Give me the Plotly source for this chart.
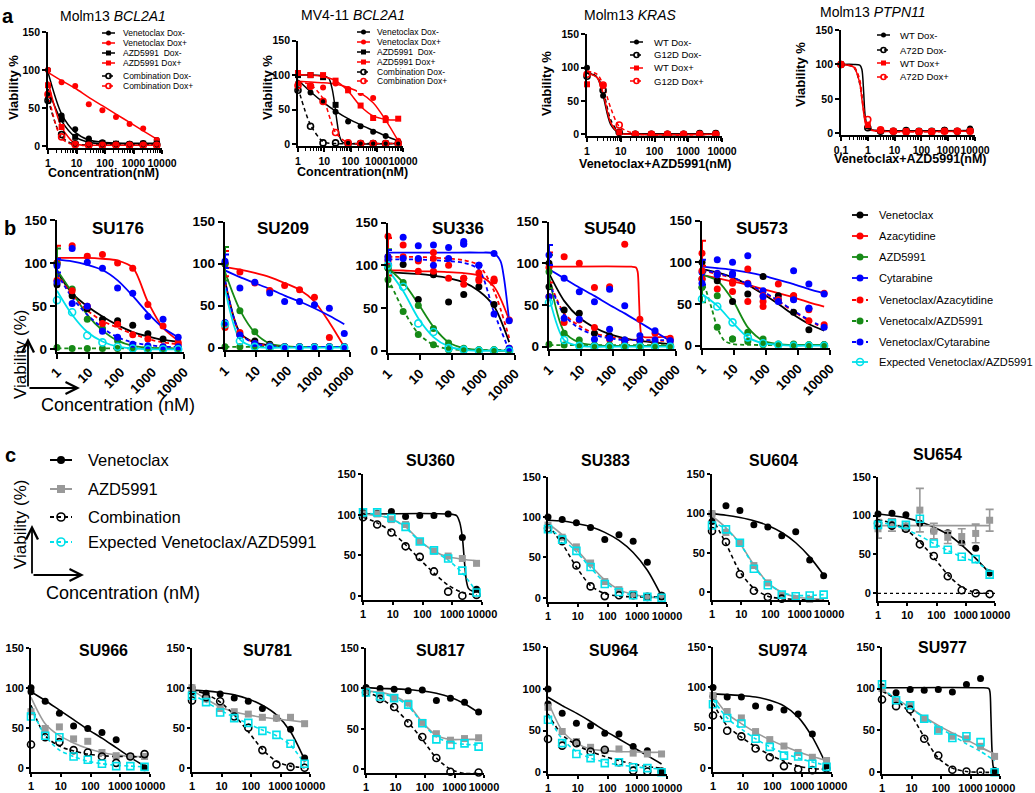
import plotly.graph_objects as go

W, H = 1035, 793
FONT = "Liberation Sans, Arial, sans-serif"

# concentrations (nM), 3-fold dilutions
CONC = [1, 3, 9, 27, 81, 243, 729, 2187, 6561]
CONC_PT = [0.1, 1, 3, 9, 27, 81, 243, 729, 2187, 6561]

# ---------------- panel a : cell lines ----------------
BCL_NAMES = ["Venetoclax Dox-", "Venetoclax Dox+", "AZD5991  Dox-", "AZD5991 Dox+",
             "Combination Dox-", "Combination Dox+"]
KRAS_NAMES = ["WT Dox-", "G12D Dox-", "WT Dox+", "G12D Dox+"]
PTPN_NAMES = ["WT Dox-", "A72D Dox-", "WT Dox+", "A72D Dox+"]

M13_BCL_PTS = [
    [100, 40, 22, 10, 5, 3, 3, 4, 8],
    [100, 84, 79, 55, 47, 38, 29, 23, 8],
    [67, 35, 12, 7, 4, 3, 2, 3, 3],
    [80, 25, 2, 1, 1, 1, 1, 1, 1],
    [60, 15, 3, 2, 2, 2, 2, 2, 2],
    [68, 12, 2, 1, 1, 1, 1, 1, 1],
]
M13_BCL_FIT = [
    [97, 42, 18, 8, 5, 4, 3.5, 3.5, 3.5],
    [97, 86, 76, 64, 53, 42, 31, 20, 9],
    [75, 33, 12, 5, 3, 3, 3, 3, 3],
    [85, 25, 3, 1, 1, 1, 1, 1, 1],
    [62, 12, 2, 1.5, 1.5, 1.5, 1.5, 1.5, 1.5],
    [70, 10, 1, 1, 1, 1, 1, 1, 1],
]

MV4_BCL_PTS = [
    [88, 75, 62, 47, 33, 26, 18, 12, 4],
    [88, 83, 82, 88, 80, 74, 67, 38, 5],
    [100, 100, 97, 57, 2, 1, 1, 1, 1],
    [103, 100, 100, 92, 78, 56, 38, 35, 37],
    [78, 26, 2, 2, 1, 1, 1, 1, 1],
    [85, 84, 62, 17, 2, 1, 1, 1, 1],
]
MV4_AZD_FIT_X = [1, 9, 15, 20, 25, 30, 38, 50, 81, 6561]
MV4_BCL_FIT = [
    [93, 76, 61, 48, 37, 28, 20, 12, 5],
    [91, 90, 89, 87, 82, 74, 60, 35, 5],
    [100, 99, 95, 80, 58, 35, 12, 3, 1, 1],
    [101, 100, 98, 92, 77, 55, 41, 36, 35],
    [82, 28, 4, 1, 1, 1, 1, 1, 1],
    [90, 86, 66, 17, 2, 1, 1, 1, 1],
]

KRAS_PTS = [
    [100, 58, 2, 1, 1, 1, 1, 2, 2],
    [87, 66, 3, 0, 0, 0, 0, 1, 1],
    [75, 73, 3, 0, 0, 0, 0, 0, 0],
    [90, 74, 14, 0, 0, 0, 0, 0, 0],
]
KRAS_FIT_X = [1, 2, 3, 5, 9, 27, 6561]
KRAS_FIT = [
    [93, 85, 58, 15, 2, 1, 1],
    [94, 86, 66, 22, 3, 0, 0],
    [92, 85, 62, 18, 2, 0, 0],
    [95, 90, 75, 40, 12, 1, 0],
]

PTPN_PTS = [
    [100, 10, 3, 3, 3, 3, 3, 5, 3, 7],
    [100, 8, 3, 3, 4, 3, 3, 4, 3, 4],
    [100, 12, 4, 3, 3, 3, 3, 3, 3, 3],
    [100, 20, 5, 3, 2, 2, 2, 3, 3, 3],
]
PTPN_FIT_X = [0.1, 0.3, 0.5, 0.6, 0.7, 0.8, 1, 1.5, 3, 6561]
PTPN_FIT = [
    [100, 100, 99, 93, 60, 25, 9, 5, 4, 4],
    [100, 96, 72, 52, 33, 18, 8, 4, 3, 3],
    [100, 96, 73, 50, 30, 16, 7, 4, 3, 3],
    [100, 97, 78, 56, 36, 22, 10, 5, 3, 3],
]

# ---------------- panel b : primary samples ----------------
B_NAMES = ["Venetoclax", "Azacytidine", "AZD5991", "Cytarabine", "Venetoclax/Azacytidine",
           "Venetocalx/AZD5991", "Venetoclax/Cytarabine", "Expected Venetoclax/AZD5991"]

SU176_PTS = [
    [100, 62, 47, 35, 33, 28, 18, 12, 1],
    [100, 120, 108, 110, 100, 94, 52, 27, 8],
    [99, 70, 35, 24, 10, 3, 2, 1, 1],
    [97, 117, 101, 94, 71, 65, 38, 35, 14],
    [80, 68, 50, 30, 29, 17, 12, 3, 6],
    [2, 1, 1, 1, 1, 1, 1, 1, 1],
    [78, 53, 50, 21, 14, 6, 4, 3, 3],
    [57, 43, 16, 8, 3, 1, 0, 0, 0],
]
SU176_FIT = [
    [90, 65, 50, 38, 28, 20, 15, 11, 9],
    [106, 106, 106, 105, 103, 95, 55, 25, 10],
    [92, 66, 40, 22, 10, 4, 2, 1, 1],
    [104, 102, 98, 92, 80, 62, 42, 25, 14],
    [88, 63, 45, 33, 25, 18, 12, 8, 6],
    [1, 1, 1, 1, 1, 1, 1, 1, 1],
    [88, 60, 40, 25, 14, 8, 5, 3, 3],
    [68, 40, 20, 9, 3, 1, 0, 0, 0],
]
SU176_REP = {0: [75, None, None, None, None, None, None, None, None]}
SU176_ERR = [0, 20, 18, 8, 0, 0, 0, 0]

SU209_PTS = [
    [100, 15, 8, 4, 1, 1, 1, 1, 1],
    [100, 90, 77, 68, 74, 69, 60, 12, 1],
    [100, 44, 19, 3, 1, 1, 1, 1, 1],
    [103, 71, 78, 65, 55, 55, 51, 47, 17],
    [24, 18, 5, 2, 1, 1, 1, 1, 1],
    [1, 1, 1, 1, 1, 1, 1, 1, 1],
    [30, 15, 5, 2, 1, 1, 1, 1, 1],
    [28, 8, 1, 0, 0, 0, 0, 0, 0],
]
SU209_FIT = [
    [80, 18, 6, 3, 1, 1, 1, 1, 1],
    [96, 93, 89, 84, 77, 69, 55, 30, 1],
    [90, 45, 18, 5, 2, 1, 1, 1, 1],
    [92, 84, 77, 70, 62, 55, 47, 38, 28],
    [78, 17, 6, 2, 1, 1, 1, 1, 1],
    [1, 1, 1, 1, 1, 1, 1, 1, 1],
    [80, 17, 5, 2, 1, 1, 1, 1, 1],
    [70, 10, 1, 0, 0, 0, 0, 0, 0],
]
SU209_REP = {0: [27, None, None, None, None, None, None, None, None]}
SU209_ERR = [0, 15, 20, 8, 0, 0, 0, 0]

SU336_PTS = [
    [97, 101, 60, 89, 57, 66, 75, 54, 1],
    [110, 124, 107, 115, 85, 85, 91, 84, 36],
    [97, 80, 53, 26, 9, 3, 1, 1, 1],
    [110, 133, 123, 124, 121, 128, 100, 114, 35],
    [105, 110, 105, 108, 100, 85, 84, 82, 3],
    [83, 46, 19, 7, 1, 1, 1, 1, 1],
    [107, 108, 108, 100, 108, 125, 100, 43, 3],
    [100, 75, 32, 22, 3, 1, 0, 0, 0],
]
SU336_CYT_FIT_X = [1, 81, 729, 2187, 3500, 4500, 5500, 6561]
SU336_FIT = [
    [92, 91, 90, 88, 85, 80, 70, 52, 10],
    [94, 94, 93, 93, 92, 91, 88, 75, 36],
    [97, 80, 55, 28, 10, 3, 1, 0, 0],
    [115, 115, 115, 114, 105, 85, 60, 35],
    [110, 110, 110, 109, 108, 106, 100, 70, 15],
    [85, 48, 20, 7, 2, 1, 1, 1, 1],
    [107, 107, 107, 106, 105, 103, 95, 45, 0],
    [95, 70, 38, 16, 5, 1, 0, 0, 0],
]
SU336_REP = {1: [134, None, 93, 93, None, 78, 82, 82, None],
             3: [None, None, None, None, None, 125, None, None, None]}
SU336_ERR = [0, 22, 22, 8, 0, 0, 0, 0]

SU540_PTS = [
    [100, 44, 40, 16, 13, 8, 7, 4, 1],
    [95, 108, 100, 71, 72, 123, 33, 16, 10],
    [90, 16, 8, 1, 1, 1, 1, 1, 1],
    [110, 82, 66, 54, 69, 49, 13, 19, 7],
    [60, 29, 32, 23, 9, 5, 8, 5, 7],
    [3, 2, 2, 2, 2, 2, 2, 2, 2],
    [60, 34, 33, 9, 10, 8, 8, 8, 7],
    [53, 8, 1, 0, 0, 0, 0, 0, 0],
]
SU540_AZA_FIT_X = [1, 400, 550, 620, 680, 730, 800, 900, 6561]
SU540_FIT = [
    [88, 55, 35, 23, 15, 10, 7, 5, 3],
    [96, 96, 95, 90, 60, 30, 15, 12, 12],
    [85, 18, 5, 2, 1, 1, 1, 1, 1],
    [93, 82, 71, 61, 50, 40, 29, 18, 7],
    [80, 40, 25, 16, 12, 9, 8, 7, 7],
    [2, 2, 2, 2, 2, 2, 2, 2, 2],
    [78, 38, 22, 14, 10, 8, 8, 8, 8],
    [60, 8, 1, 0, 0, 0, 0, 0, 0],
]
SU540_REP = {0: [72, None, None, None, None, None, None, None, None],
             3: [None, None, None, None, 21, None, None, None, None]}
SU540_ERR = [0, 18, 20, 12, 0, 0, 0, 0]

SU573_PTS = [
    [100, 78, 53, 62, 83, 60, 40, 19, 1],
    [111, 68, 65, 92, 47, 74, 60, 43, 63],
    [70, 60, 8, 16, 8, 2, 2, 1, 1],
    [88, 103, 100, 108, 66, 55, 90, 74, 62],
    [90, 85, 75, 75, 60, 55, 60, 30, 25],
    [70, 22, 8, 5, 1, 1, 1, 1, 1],
    [75, 85, 85, 74, 59, 53, 55, 45, 22],
    [56, 47, 28, 10, 3, 1, 0, 0, 0],
]
SU573_VA_FIT_X = [1, 2, 3, 5, 9, 27, 6561]
SU573_FIT = [
    [92, 88, 82, 73, 62, 50, 37, 26, 18],
    [85, 81, 77, 73, 68, 63, 58, 52, 47],
    [85, 78, 55, 22, 6, 2, 1, 1, 1],
    [95, 93, 91, 88, 84, 79, 74, 68, 63],
    [90, 86, 81, 73, 64, 53, 41, 30, 21],
    [82, 45, 22, 6, 2, 1, 1],
    [91, 87, 82, 74, 65, 54, 42, 31, 22],
    [62, 48, 28, 10, 3, 1, 0, 0, 0],
]
SU573_REP = {0: [80, None, None, None, None, None, None, None, None],
             1: [80, None, 77, 53, 53, None, None, None, None],
             3: [None, 87, 87, None, None, None, 56, 45, None]}
SU573_ERR = [0, 15, 18, 15, 0, 0, 0, 0]

# ---------------- panel c : Venetoclax / AZD5991 ----------------
C_NAMES = ["Venetoclax", "AZD5991", "Combination", "Expected Venetoclax/AZD5991"]

SU360_PTS = [[103, 102, 104, 98, 99, 99, 101, 72, 8],
             [101, 101, 94, 88, 67, 55, 49, 46, 40],
             [97, 88, 78, 61, 48, 30, 5, 0, 1],
             [103, 103, 96, 85, 67, 56, 46, 31, 4]]
SU360_VEN_FIT_X = [1, 729, 1400, 1800, 2187, 2600, 3000, 3500, 4500, 6561]
SU360_FIT = [[101, 101, 99, 90, 72, 40, 18, 9, 6, 5],
             [101, 99, 95, 85, 68, 55, 48, 45, 43],
             [97, 90, 79, 63, 45, 28, 13, 4, 1],
             [103, 100, 95, 84, 67, 55, 44, 28, 5]]

SU383_PTS = [[100, 97, 93, 87, 72, 78, 70, 44, 3],
             [90, 75, 63, 43, 20, 10, 5, 1, 2],
             [86, 70, 40, 14, 2, 3, 3, 1, 2],
             [85, 72, 58, 38, 17, 7, 3, 1, 0]]
SU383_FIT = [[96, 95, 92, 88, 81, 71, 56, 34, 2],
             [92, 78, 60, 40, 22, 10, 4, 1, 0],
             [90, 67, 38, 15, 5, 2, 1, 1, 1],
             [88, 73, 57, 37, 19, 8, 3, 1, 0]]

SU604_PTS = [[100, 110, 104, 86, 83, 72, 77, 41, 21],
             [100, 76, 63, 34, 12, -3, -8, -9, None],
             [78, 64, 23, 2, -6, -8, None, None, None],
             [85, 80, 63, 30, 9, -3, -5, -4, -3]]
SU604_FIT = [[100, 98, 95, 91, 85, 76, 63, 45, 22],
             [97, 82, 62, 35, 12, 0, -6, -8, -9],
             [95, 62, 26, 5, -5, -8, -9, -10, -10],
             [90, 80, 62, 33, 12, 0, -4, -4, -3]]
SU604_REP = {0: [90, None, None, None, None, None, None, None, None]}

SU654_PTS = [[102, 103, 101, 90, 80, 78, 65, 58, 26],
             [83, 88, 86, 107, 80, 72, 73, 77, 94],
             [90, 87, 83, 63, 48, 22, 4, 0, -1],
             [88, 90, 88, 96, 64, 56, 47, 44, 24]]
SU654_AZD_ERR = [12, 8, 6, 28, 10, 8, 10, 12, 14]
SU654_FIT = [[102, 100, 97, 92, 85, 76, 62, 45, 26],
             [87, 87, 87, 87, 87, 87, 87, 87, 87],
             [95, 90, 82, 66, 46, 24, 8, 1, 0],
             [92, 88, 82, 74, 64, 55, 47, 40, 29]]

SU966_PTS = [[100, 83, 68, 52, 49, 44, 35, 14, 0],
             [70, 49, 51, 36, 33, 19, 15, 14, 14],
             [29, 38, 32, 22, 19, 14, 6, 14, 17],
             [64, 40, 38, 14, 10, 5, 2, 2, 1]]
SU966_FIT = [[95, 84, 72, 60, 48, 37, 25, 13, 2],
             [88, 55, 40, 31, 24, 19, 16, 14, 14],
             [78, 40, 27, 21, 17, 15, 14, 14, 13],
             [75, 40, 22, 14, 8, 5, 3, 2, 1]]
SU966_REP = {0: [95, None, None, None, None, None, None, None, None]}

SU781_PTS = [[100, 93, 92, 87, 83, 74, 62, 48, 12],
             [100, 86, 74, 70, 67, 63, 62, 63, 55],
             [84, 88, 83, 64, 50, 22, 4, 1, 0],
             [90, 82, 69, 62, 56, 46, 41, 30, 5]]
SU781_FIT = [[97, 96, 94, 91, 86, 78, 66, 45, 10],
             [97, 86, 76, 70, 66, 63, 61, 59, 57],
             [97, 92, 82, 66, 45, 23, 8, 2, 0],
             [92, 82, 72, 63, 55, 47, 40, 28, 5]]
SU781_REP = {0: [95, None, None, None, None, None, None, None, None]}

SU817_PTS = [[101, 100, 99, 97, 98, 85, 88, 83, 71],
             [97, 93, 88, 82, 58, 44, 36, 38, 39],
             [95, 87, 77, 57, 40, 14, -3, None, -4],
             [95, 90, 88, 80, 57, 37, 30, 32, 28]]
SU817_FIT = [[101, 100, 99.5, 98.5, 97, 94, 89, 81, 70],
             [97, 95, 91, 80, 58, 42, 37, 37, 37],
             [96, 88, 76, 58, 37, 14, 0, -5, -5],
             [97, 94, 89, 78, 57, 40, 33, 31, 30]]

SU964_PTS = [[100, 71, 59, 56, 47, 46, 31, 26, 0],
             [78, 49, 37, 30, 26, 28, 23, 22, 22],
             [40, 32, 35, 25, 27, 12, 2, 1, 1],
             [63, 35, 22, 17, 11, 12, 6, 5, 0]]
SU964_FIT = [[90, 80, 71, 61, 50, 40, 30, 20, 10],
             [85, 50, 35, 28, 26, 25, 24.5, 24, 24],
             [70, 45, 33, 25, 19, 14, 10, 7, 5],
             [68, 40, 25, 17, 12, 9, 7, 5, 4]]
SU964_REP = {0: [82, None, None, None, None, None, None, None, None]}

SU974_PTS = [[100, 88, 88, 77, 75, 72, 67, 42, 2],
             [90, 70, 62, 45, 35, 27, 19, 13, 9],
             [65, 46, 39, 24, 13, 2, -2, -3, -1],
             [79, 62, 55, 36, 26, 15, 14, 5, 1]]
SU974_FIT = [[92, 91, 90, 88, 84, 77, 63, 38, 3],
             [90, 67, 55, 44, 35, 27, 20, 14, 9],
             [80, 52, 38, 26, 16, 8, 2, -1, -2],
             [85, 62, 48, 36, 26, 18, 12, 7, 3]]
SU974_REP = {0: [89, None, None, None, None, None, None, None, None]}

SU977_PTS = [[102, 95, 99, 98, 99, 96, 105, 112, 2],
             [100, 85, 80, 64, 51, 43, 40, 31, 19],
             [87, 79, 75, 40, 20, 3, 1, 1, 1],
             [105, 86, 80, 64, 50, 41, 43, 36, 0]]
SU977_VEN_FIT_X = [1, 2187, 4200, 4600, 4900, 5300, 5800, 6561]
SU977_FIT = [[101, 101, 100, 95, 70, 30, 8, 2],
             [98, 88, 77, 66, 56, 47, 39, 30, 22],
             [97, 87, 70, 42, 17, 5, 1, 0, 0],
             [100, 88, 77, 65, 54, 44, 34, 25, 14]]

# ---------------- styles ----------------
BLACK, RED, GREEN, BLUE, CYAN, GRAY = "#000000", "#ff0000", "#168a16", "#0000ff", "#00e0ea", "#999999"
DASH = "4px,3px"


def sty(color, symbol, dash):
    return dict(color=color, symbol=symbol, dash=dash)


BCL_STY = [sty(BLACK, "circle", "solid"), sty(RED, "circle", "solid"),
           sty(BLACK, "square", "solid"), sty(RED, "square", "solid"),
           sty(BLACK, "circle-open", DASH), sty(RED, "circle-open", DASH)]
MUT_STY = [sty(BLACK, "circle", "solid"), sty(BLACK, "circle-open", DASH),
           sty(RED, "square", "solid"), sty(RED, "circle-open", DASH)]
B_STY = [sty(BLACK, "circle", "solid"), sty(RED, "circle", "solid"),
         sty(GREEN, "circle", "solid"), sty(BLUE, "circle", "solid"),
         sty(RED, "circle", DASH), sty(GREEN, "circle", DASH),
         sty(BLUE, "circle", DASH), sty(CYAN, "circle-open", "solid")]
C_STY = [sty(BLACK, "circle", "solid"), sty(GRAY, "square", "solid"),
         sty(BLACK, "circle-open", DASH), sty(CYAN, "square-open", DASH)]
C_LEG_STY = [sty(BLACK, "circle", "solid"), sty(GRAY, "square", "solid"),
             sty(BLACK, "circle-open", DASH), sty(CYAN, "circle-open", DASH)]

ROW = {
    "a": dict(axw=1.8, tick=10.5, ms=6, lw=1.5, tl=4, angle=0),
    "b": dict(axw=2.4, tick=13.5, ms=7, lw=1.8, tl=5, angle=-45),
    "c": dict(axw=1.8, tick=11, ms=7, lw=1.6, tl=3, angle=0),
}

# geometry in pixels: x of axis start, x of axis end, y of 150, y of 0, y minimum
PANELS = [
    dict(row="a", pts=M13_BCL_PTS, fit=M13_BCL_FIT, sty=BCL_STY, geom=(48, 162, 32, 146, -3)),
    dict(row="a", pts=MV4_BCL_PTS, fit=MV4_BCL_FIT, fitx={2: MV4_AZD_FIT_X}, sty=BCL_STY,
         geom=(298, 403, 40.5, 144.3, -3)),
    dict(row="a", pts=KRAS_PTS, fit=KRAS_FIT, fitx={i: KRAS_FIT_X for i in range(4)}, sty=MUT_STY,
         geom=(587, 722, 34.3, 134.3, -3)),
    dict(row="a", pts=PTPN_PTS, fit=PTPN_FIT, fitx={i: PTPN_FIT_X for i in range(4)}, sty=MUT_STY,
         geom=(841, 975, 30, 133.3, -3), conc=CONC_PT, xrange=(-1, 4)),
    dict(row="b", title="SU176", txy=(118, 229), pts=SU176_PTS, fit=SU176_FIT, rep=SU176_REP,
         err=SU176_ERR, sty=B_STY, geom=(57, 184, 220, 349.3, -3)),
    dict(row="b", title="SU209", txy=(283, 229), pts=SU209_PTS, fit=SU209_FIT, rep=SU209_REP,
         err=SU209_ERR, sty=B_STY, geom=(225, 350, 221.7, 347.7, -3)),
    dict(row="b", title="SU336", txy=(458, 228), pts=SU336_PTS, fit=SU336_FIT, fitx={3: SU336_CYT_FIT_X},
         rep=SU336_REP, err=SU336_ERR, sty=B_STY, geom=(388, 515, 222.7, 350.7, -3)),
    dict(row="b", title="SU540", txy=(610, 228), pts=SU540_PTS, fit=SU540_FIT, fitx={1: SU540_AZA_FIT_X},
         rep=SU540_REP, err=SU540_ERR, sty=B_STY, geom=(549, 676, 221.7, 346.7, -3)),
    dict(row="b", title="SU573", txy=(762, 229), pts=SU573_PTS, fit=SU573_FIT, fitx={5: SU573_VA_FIT_X},
         rep=SU573_REP, err=SU573_ERR, sty=B_STY, geom=(702, 830, 220.7, 345.7, -3)),
    dict(row="c", title="SU360", txy=(430, 461), pts=SU360_PTS, fit=SU360_FIT, fitx={0: SU360_VEN_FIT_X},
         sty=C_STY, geom=(363, 482, 474.3, 595.7, -5)),
    dict(row="c", title="SU383", txy=(605, 460), pts=SU383_PTS, fit=SU383_FIT, sty=C_STY,
         geom=(548, 667, 476.7, 597.7, -5)),
    dict(row="c", title="SU604", txy=(773, 460), pts=SU604_PTS, fit=SU604_FIT, rep=SU604_REP, sty=C_STY,
         geom=(712, 829, 474.3, 592.3, -10)),
    dict(row="c", title="SU654", txy=(937, 454), pts=SU654_PTS, fit=SU654_FIT, sty=C_STY,
         geom=(878, 995, 476.7, 593.3, -10), perr={1: SU654_AZD_ERR}, zero_line=True),
    dict(row="c", title="SU966", txy=(103, 650), pts=SU966_PTS, fit=SU966_FIT, rep=SU966_REP, sty=C_STY,
         geom=(31, 150, 647.7, 767.7, -5)),
    dict(row="c", title="SU781", txy=(267, 650), pts=SU781_PTS, fit=SU781_FIT, rep=SU781_REP, sty=C_STY,
         geom=(192, 310, 647.7, 767.7, -5)),
    dict(row="c", title="SU817", txy=(440, 650), pts=SU817_PTS, fit=SU817_FIT, sty=C_STY,
         geom=(366, 484, 648, 769.3, -5)),
    dict(row="c", title="SU964", txy=(613, 650), pts=SU964_PTS, fit=SU964_FIT, rep=SU964_REP, sty=C_STY,
         geom=(548, 667, 647.3, 772.3, -2)),
    dict(row="c", title="SU974", txy=(782, 650), pts=SU974_PTS, fit=SU974_FIT, rep=SU974_REP, sty=C_STY,
         geom=(713, 832, 647.3, 767.7, -5)),
    dict(row="c", title="SU977", txy=(942, 647), pts=SU977_PTS, fit=SU977_FIT, fitx={0: SU977_VEN_FIT_X},
         sty=C_STY, geom=(882, 1000, 646.7, 772.3, -2)),
]

fig = go.Figure()
annotations = []
shapes = []


def ref(i, k):
    return k if i == 1 else f"{k}{i}"


def key(i, k):
    return f"{k}axis" if i == 1 else f"{k}axis{i}"


def text(x, y, s, size, bold=False, angle=0, anchor="center"):
    annotations.append(dict(x=x / W, y=1 - y / H, xref="paper", yref="paper", text=s, showarrow=False,
                            textangle=angle, xanchor=anchor, yanchor="middle",
                            font=dict(family=FONT, size=size, color="black",
                                      weight="bold" if bold else "normal")))


for i, p in enumerate(PANELS, start=1):
    r = ROW[p["row"]]
    xl, xr, ytop, y0, ymin = p["geom"]
    ybot = y0 + (y0 - ytop) / 150 * (-ymin)
    xrng = p.get("xrange", (0, 4))
    tv = [10 ** k for k in range(xrng[0], xrng[1] + 1)]
    tt = ["0.1" if v < 1 else str(int(v)) for v in tv]
    axis_common = dict(showline=True, linecolor="black", linewidth=r["axw"], ticks="outside",
                       ticklen=r["tl"], tickwidth=r["axw"], tickcolor="black", showgrid=False,
                       zeroline=False, fixedrange=True, automargin=False,
                       tickfont=dict(family=FONT, size=r["tick"], color="black", weight="bold"))
    xa = dict(axis_common, domain=[xl / W, xr / W], type="log", range=list(xrng), anchor=ref(i, "y"),
              tickvals=tv, ticktext=tt, tickangle=r["angle"])
    if p["row"] == "a":
        xa["minor"] = dict(ticks="outside", ticklen=2.5, tickwidth=1, tickcolor="black", dtick="D1")
    ya = dict(axis_common, domain=[1 - ybot / H, 1 - ytop / H], range=[ymin, 150], anchor=ref(i, "x"),
              tickvals=[0, 50, 100, 150])
    fig.update_layout(**{key(i, "x"): xa, key(i, "y"): ya})

    conc = p.get("conc", CONC)
    fitx = p.get("fitx", {})
    rep = p.get("rep", {})
    err = p.get("err")
    perr = p.get("perr", {})
    axes = dict(xaxis=ref(i, "x"), yaxis=ref(i, "y"))
    # fitted curves
    for s, (fit, st) in enumerate(zip(p["fit"], p["sty"])):
        fig.add_trace(go.Scatter(x=fitx.get(s, conc), y=fit, mode="lines", showlegend=False,
                                 hoverinfo="skip", line=dict(color=st["color"], width=r["lw"],
                                                             dash=st["dash"], shape="spline",
                                                             smoothing=0.8), **axes))
    # data points
    for s, (pts, st) in enumerate(zip(p["pts"], p["sty"])):
        openm = st["symbol"].endswith("open")
        mk = dict(symbol=st["symbol"], size=r["ms"], color=st["color"],
                  line=dict(color=st["color"], width=1.6 if openm else 0))
        ey = None
        if s in perr:
            ey = dict(type="data", array=perr[s], color=st["color"], thickness=1.6, width=4)
        fig.add_trace(go.Scatter(x=conc, y=pts, mode="markers", marker=mk, showlegend=False,
                                 cliponaxis=False, error_y=ey, **axes))
        if s in rep:
            fig.add_trace(go.Scatter(x=conc, y=rep[s], mode="markers", marker=mk, showlegend=False,
                                     cliponaxis=False, **axes))
        if err and err[s]:
            fig.add_trace(go.Scatter(x=conc[:1], y=pts[:1], mode="markers", showlegend=False,
                                     marker=dict(size=1, color=st["color"]), cliponaxis=False,
                                     error_y=dict(type="data", array=[err[s]], color=st["color"],
                                                  thickness=2, width=4), **axes))
    if p.get("zero_line"):
        shapes.append(dict(type="line", xref=f"{ref(i, 'x')} domain", yref=ref(i, "y"), x0=0, x1=1,
                           y0=0, y1=0, line=dict(color="black", width=1.3, dash="dot")))
    if "title" in p:
        text(p["txy"][0], p["txy"][1], p["title"], 17 if p["row"] == "b" else 16, bold=True)


# manual legends drawn on hidden axes (pixel units)
def legend(k, x0, x1, xt, rows, names, styles, fsize, ms, lw):
    top, bot = rows[0] - 12, rows[-1] + 12
    fig.update_layout(**{key(k, "x"): dict(domain=[x0 / W, x1 / W], range=[0, 1], visible=False,
                                          fixedrange=True, automargin=False, anchor=ref(k, "y")),
                         key(k, "y"): dict(domain=[1 - bot / H, 1 - top / H], range=[bot, top],
                                          visible=False, fixedrange=True, automargin=False,
                                          anchor=ref(k, "x"))})
    axes = dict(xaxis=ref(k, "x"), yaxis=ref(k, "y"))
    for yy, name, st in zip(rows, names, styles):
        fig.add_trace(go.Scatter(x=[0, 1], y=[yy, yy], mode="lines", showlegend=False, hoverinfo="skip",
                                 line=dict(color=st["color"], width=lw, dash=st["dash"]),
                                 cliponaxis=False, **axes))
        openm = st["symbol"].endswith("open")
        fig.add_trace(go.Scatter(x=[0.5], y=[yy], mode="markers", showlegend=False, hoverinfo="skip",
                                 marker=dict(symbol=st["symbol"], size=ms, color=st["color"],
                                             line=dict(color=st["color"], width=1.6 if openm else 0)),
                                 cliponaxis=False, **axes))
        text(xt, yy, name, fsize, anchor="left")


n = len(PANELS)
legend(n + 1, 102, 115, 121, [33, 43, 53, 63, 76, 86], BCL_NAMES, BCL_STY, 8.5, 5, 1.5)
legend(n + 2, 357, 370, 375, [32, 42, 52, 62, 72, 81], BCL_NAMES, BCL_STY, 8.5, 5, 1.5)
legend(n + 3, 630, 643, 652, [42, 55, 68, 81], KRAS_NAMES, MUT_STY, 9.5, 5, 1.5)
legend(n + 4, 877, 890, 898, [35, 50, 63, 77], PTPN_NAMES, MUT_STY, 9.5, 5, 1.5)
legend(n + 5, 852, 868, 877, [215, 236, 257, 278, 300, 321, 342, 362], B_NAMES, B_STY, 11.1, 7, 1.8)
legend(n + 6, 50, 72, 86, [460, 489, 517, 542], C_NAMES, C_LEG_STY, 16.5, 8, 2)

# panel labels and axis titles
text(8, 16, "a", 20, bold=True)
text(10, 228, "b", 20, bold=True)
text(10, 455, "c", 20, bold=True)
text(113, 16, "Molm13 <i>BCL2A1</i>", 14)
text(353, 15, "MV4-11 <i>BCL2A1</i>", 14)
text(630, 15, "Molm13 <i>KRAS</i>", 14)
text(873, 12, "Molm13 <i>PTPN11</i>", 14)
for xx, yy in [(13, 88), (267, 88), (547, 84), (800, 75)]:
    text(xx, yy, "Viability %", 13, bold=True, angle=-90)
text(103, 173, "Concentration(nM)", 12.5, bold=True)
text(352, 172, "Concentration(nM)", 12.5, bold=True)
text(655, 164, "Venetoclax+AZD5991(nM)", 12.5, bold=True)
text(910, 159, "Venetoclax+AZD5991(nM)", 12.5, bold=True)

# schematic axis arrows for b and c
for vx, vy, cx, cy, tx, ty in [(28, 388, 118, 405, 20, 355), (32, 575, 123, 593, 20, 525)]:
    for hx, hy, ax, ay in [(vx, vy - 50, 0, 50), (vx + 52, vy, -52, 0)]:
        annotations.append(dict(x=hx / W, y=1 - hy / H, xref="paper", yref="paper", ax=ax, ay=ay,
                                showarrow=True, arrowhead=5, arrowsize=1.3, arrowwidth=1.8,
                                arrowcolor="black", text=""))
    text(cx, cy, "Concentration (nM)", 18)
    text(tx, ty, "Viability (%)", 17, angle=-90)

fig.update_layout(width=W, height=H, margin=dict(l=0, r=0, t=0, b=0, autoexpand=False),
                  paper_bgcolor="white", plot_bgcolor="white", showlegend=False,
                  annotations=annotations, shapes=shapes, font=dict(family=FONT))

# the page body has a default 8px margin; remove it so the figure fills the window exactly
fig.write_html("out.html", config={"displayModeBar": False},
               post_script="document.body.style.margin='0px';")
